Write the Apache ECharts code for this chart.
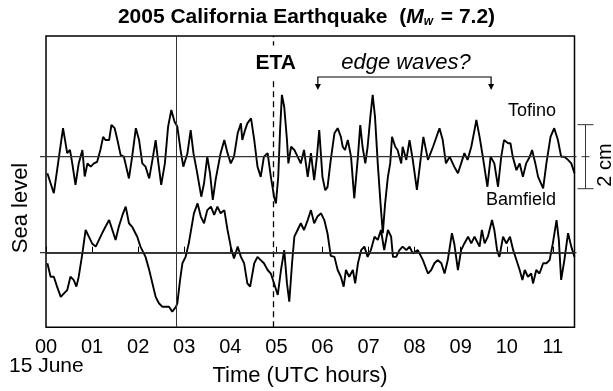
<!DOCTYPE html>
<html><head><meta charset="utf-8">
<script src="https://cdn.jsdelivr.net/npm/echarts@6/dist/echarts.min.js"></script>
<style>html,body{margin:0;padding:0;background:#fff}#c{width:613px;height:391px}</style>
</head><body><div id="c"></div>
<script>
// ---- data ----
const hourTicks = ['00','01','02','03','04','05','06','07','08','09','10','11'];
const tofinoT = [0.03,0.17,0.37,0.46,0.52,0.57,0.64,0.71,0.79,0.84,0.90,0.97,1.04,1.11,1.18,1.24,1.29,1.37,1.42,1.49,1.55,1.62,1.69,1.80,1.87,1.95,2.02,2.09,2.16,2.24,2.31,2.38,2.43,2.50,2.58,2.65,2.72,2.79,2.85,2.92,2.98,3.07,3.14,3.20,3.27,3.37,3.43,3.50,3.56,3.62,3.68,3.79,3.87,3.94,4.01,4.08,4.16,4.23,4.26,4.32,4.37,4.45,4.52,4.59,4.66,4.73,4.81,4.88,4.95,4.99,5.04,5.08,5.12,5.17,5.23,5.26,5.32,5.39,5.46,5.53,5.60,5.68,5.75,5.82,5.88,5.93,6.00,6.06,6.11,6.18,6.26,6.33,6.40,6.44,6.49,6.55,6.62,6.69,6.77,6.82,6.87,6.93,6.98,7.04,7.09,7.14,7.20,7.26,7.31,7.36,7.42,7.47,7.51,7.58,7.63,7.71,7.74,7.82,7.89,7.96,8.05,8.12,8.19,8.29,8.40,8.54,8.61,8.68,8.76,8.86,8.94,9.01,9.08,9.15,9.23,9.30,9.34,9.41,9.48,9.58,9.65,9.73,9.81,9.88,9.94,10.03,10.08,10.13,10.21,10.28,10.35,10.42,10.50,10.55,10.62,10.68,10.79,10.86,10.95,11.03,11.11,11.18,11.25,11.33,11.40,11.47];
const tofinoV = [-0.52,-1.14,0.89,0.11,0.21,-0.21,-0.88,-0.21,0.21,-0.62,-0.21,-0.31,-0.21,-0.16,0.21,0.62,0.52,0.52,0.99,0.89,0.52,0.05,0,-0.68,0,0.89,0.52,-0.21,-0.31,-0.68,-0.10,0.52,-0.10,-0.88,-0.21,0.94,1.46,1.09,0.94,0.21,-0.31,0.11,0.83,0.11,-0.42,-1.25,-0.83,0,-0.52,-1.35,-0.73,0.11,0.52,0.11,-0.21,0,0.73,1.04,0.52,0.83,1.04,1.20,0.52,-0.31,-0.63,0,0.11,-0.63,-1.25,-1.46,-0.63,0.83,1.93,1.56,0.52,-0.21,0.31,0.21,0,-0.21,0.21,-0.63,0.11,-0.73,0,0.83,-0.63,-1.05,-0.95,-0.10,0.73,0.89,0.62,0.31,0.21,0.52,0,-1.30,0,0.99,0.31,-0.21,0.31,1.25,1.93,1.25,-0.21,-1.46,-2.39,-1.46,-0.63,-0.21,0.62,0.31,0.21,-0.21,0.31,-0.10,0.52,-0.10,-1.04,-0.21,0.62,-0.10,0.31,0.89,0.52,-0.21,0,-0.31,-0.52,-0.21,0.11,-0.10,0.31,0.83,1.15,0.62,0,-0.94,0,-0.21,-0.94,0,0.52,0.42,0.42,0,-0.42,-0.21,-0.63,-0.21,0,0.21,-0.21,-0.63,-0.99,-0.21,0.62,0.89,0.52,0,0,-0.10,-0.21,-0.52];
const bamfieldT = [0.03,0.10,0.17,0.24,0.32,0.39,0.46,0.53,0.60,0.66,0.71,0.79,0.86,0.93,1.00,1.08,1.15,1.22,1.29,1.37,1.44,1.51,1.58,1.66,1.73,1.80,1.87,1.98,2.05,2.16,2.24,2.31,2.38,2.45,2.53,2.60,2.67,2.74,2.82,2.85,2.91,2.96,3.03,3.10,3.21,3.29,3.36,3.43,3.50,3.58,3.65,3.72,3.79,3.87,3.94,4.01,4.08,4.16,4.23,4.30,4.37,4.43,4.52,4.59,4.66,4.73,4.81,4.88,4.95,5.03,5.10,5.17,5.23,5.28,5.34,5.39,5.46,5.53,5.60,5.68,5.75,5.82,5.89,5.97,6.04,6.11,6.18,6.26,6.33,6.40,6.46,6.51,6.58,6.66,6.71,6.77,6.84,6.91,6.98,7.05,7.13,7.20,7.27,7.34,7.42,7.49,7.53,7.60,7.67,7.74,7.82,7.89,7.96,8.07,8.18,8.29,8.36,8.43,8.50,8.58,8.65,8.72,8.81,8.86,8.94,9.01,9.08,9.16,9.23,9.30,9.41,9.46,9.52,9.59,9.68,9.73,9.79,9.84,9.92,9.99,10.07,10.14,10.21,10.28,10.34,10.39,10.46,10.53,10.57,10.64,10.71,10.79,10.86,10.93,11.00,11.08,11.13,11.18,11.25,11.33,11.40,11.47];
const bamfieldV = [-0.33,-0.75,-0.75,-1.06,-1.38,-1.27,-1.17,-0.75,-0.85,-1.06,-0.75,-0.02,0.71,0.50,0.29,0.19,0.40,0.61,0.81,1.02,0.71,0.40,0.81,1.18,1.44,0.92,0.81,0.50,0.19,-0.13,-0.54,-0.96,-1.38,-1.58,-1.69,-1.69,-1.69,-1.84,-1.69,-1.58,-0.85,-0.33,-0.13,0.30,1.23,1.54,1.13,0.92,1.33,1.44,1.18,1.44,1.23,1.33,0.71,0.19,-0.18,0.19,-0.13,-0.33,-0.96,-1.06,-0.33,-0.13,-0.23,-0.33,-0.54,-0.65,-0.96,-1.32,-0.54,0.08,-0.96,-1.53,-0.33,0.50,0.71,0.92,0.71,1.02,1.33,0.92,1.13,1.23,1.02,0.60,-0.10,-0.13,-0.54,-0.75,-1.06,-0.54,-0.75,-0.54,-0.96,-0.33,0.08,0.19,-0.13,0.08,0.50,0.40,0.71,0.08,0.71,0.50,-0.13,-0.13,0.08,0.19,0.08,0.19,-0.02,0.08,-0.23,-0.65,-0.54,-0.33,-0.23,-0.33,-0.65,-0.23,0.61,0.29,-0.54,0.08,0.29,0.50,0.29,0.50,0.19,0.71,0.29,0.50,1.02,0.71,0.08,-0.13,0.50,0.29,0.50,0.08,-0.23,-0.54,-0.85,-0.54,-0.75,-0.65,-0.96,-0.54,-0.65,-0.33,-0.33,-0.23,0.29,1.02,0.40,-0.85,-0.23,0.61,0.19,-0.13];
const tofinoOffset = 3;     // cm, vertical offset of Tofino trace
const bamfieldOffset = 0;   // cm
const markerHour = 2.83;    // thin solid vertical line
const etaHour = 4.94;       // ETA dashed line
const edgeStart = 5.9, edgeEnd = 9.66;
const scaleBarCm = 2;

// ---- chart ----
const FONT = "'Liberation Sans', Arial, Helvetica, sans-serif";
const chart = echarts.init(document.getElementById('c'), null, {renderer:'canvas'});
const tofinoData = tofinoT.map((t,i)=>[t, tofinoV[i] + tofinoOffset]);
const bamfieldData = bamfieldT.map((t,i)=>[t, bamfieldV[i] + bamfieldOffset]);
const G = {left:46, top:36, width:528.5, height:291.3};
chart.setOption({
  animation:false,
  backgroundColor:'#fff',
  title:{
    left:'center', top:1,
    text:'{b|2005 California Earthquake  (}{i|M}{s|w}{b| = 7.2)}',
    textStyle:{rich:{
      b:{fontFamily:FONT,fontWeight:'bold',fontSize:21,color:'#000'},
      i:{fontFamily:FONT,fontWeight:'bold',fontStyle:'italic',fontSize:21,color:'#000'},
      s:{fontFamily:FONT,fontWeight:'bold',fontStyle:'italic',fontSize:12,color:'#000',padding:[10,2,0,0]}
    }}
  },
  grid:{left:G.left, top:G.top, width:G.width, height:G.height, show:true, borderColor:'#000', borderWidth:1.5, backgroundColor:'transparent'},
  xAxis:{type:'value', min:0, max:11.47, interval:1,
    axisLine:{show:true, lineStyle:{color:'#000', width:1.5}},
    axisTick:{show:true, inside:true, length:6, lineStyle:{color:'#000', width:1}},
    splitLine:{show:false},
    axisLabel:{color:'#000', fontFamily:FONT, fontSize:20, margin:10, showMaxLabel:false,
      formatter:v=> (Math.abs(v-Math.round(v))<1e-6 && hourTicks[Math.round(v)]!==undefined) ? hourTicks[Math.round(v)] : ''}
  },
  yAxis:{type:'value', min:-2.33, max:6.77, show:false},
  series:[
    {type:'line', name:'Tofino', data:tofinoData, showSymbol:false, symbol:'none',
      lineStyle:{color:'#000', width:1.9}, z:3,
      markLine:{silent:true, symbol:'none', label:{show:false}, animation:false,
        data:[
          {xAxis:markerHour, lineStyle:{type:'solid', color:'#333', width:1}},
          {xAxis:etaHour, lineStyle:{type:[6,4], color:'#000', width:1.3}}
        ]}},
    {type:'line', name:'Bamfield', data:bamfieldData, showSymbol:false, symbol:'none',
      lineStyle:{color:'#000', width:1.9}, z:3}
  ]
});

function px(x,y){ return chart.convertToPixel({xAxisIndex:0,yAxisIndex:0},[x,y]); }
const gl = G.left, gr = G.left + G.width;
const yT = px(0,tofinoOffset)[1], yB = px(0,bamfieldOffset)[1];
const sbTop = px(0,tofinoOffset + scaleBarCm/2)[1], sbBot = px(0,tofinoOffset - scaleBarCm/2)[1];
const sbX = gr + 11;
const xEta = px(etaHour,0)[0];
const xs = px(edgeStart,0)[0], xe = px(edgeEnd,0)[0];
const ln = (x1,y1,x2,y2,w,c)=>({type:'line', silent:true, z:5, shape:{x1,y1,x2,y2}, style:{stroke:c||'#222', lineWidth:w||1}});
const txt = (x,y,text,opt)=>({type:'text', silent:true, z:10, x, y, rotation:opt.rot||0,
  style:Object.assign({text, fill:'#000', font:opt.font, textAlign:opt.align||'center', textVerticalAlign:'middle'}, opt.extra||{})});
chart.setOption({graphic:[
  ln(gl-6, yT, gr+2, yT, 1.2, '#333'),
  ln(gl-6, yB, gr+2, yB, 1.2, '#333'),
  ln(sbX, sbTop, sbX, sbBot, 1, '#333'),
  ln(sbX-8, sbTop, sbX+8, sbTop, 1, '#333'),
  ln(sbX-8, sbBot, sbX+8, sbBot, 1, '#333'),
  ln(sbX-4, yT, sbX+4, yT, 1, '#333'),
  txt(605, 165, '2 cm', {font:'20px '+FONT, rot:Math.PI/2}),
  txt(532, 111, 'Tofino', {font:'18px '+FONT}),
  txt(521, 200, 'Bamfield', {font:'18px '+FONT}),
  txt(xEta+2, 63, 'ETA', {font:'bold 21px '+FONT, extra:{backgroundColor:'#fff', padding:[6,2,8,2]}}),
  txt(406, 63, 'edge waves?', {font:'italic 22px '+FONT}),
  {type:'polyline', silent:true, z:6, shape:{points:[[xs,86],[xs,77],[xe,77],[xe,86]]}, style:{stroke:'#000', lineWidth:1.2, fill:null}},
  {type:'polygon', silent:true, z:6, shape:{points:[[xs-3,84],[xs+3,84],[xs,90]]}, style:{fill:'#000'}},
  {type:'polygon', silent:true, z:6, shape:{points:[[xe-3,84],[xe+3,84],[xe,90]]}, style:{fill:'#000'}},
  txt(21, 208, 'Sea level', {font:'22px '+FONT, rot:Math.PI/2}),
  txt(9, 366, '15 June', {font:'21px '+FONT, align:'left'}),
  txt(300, 376, 'Time (UTC hours)', {font:'22px '+FONT})
]});
</script></body></html>
